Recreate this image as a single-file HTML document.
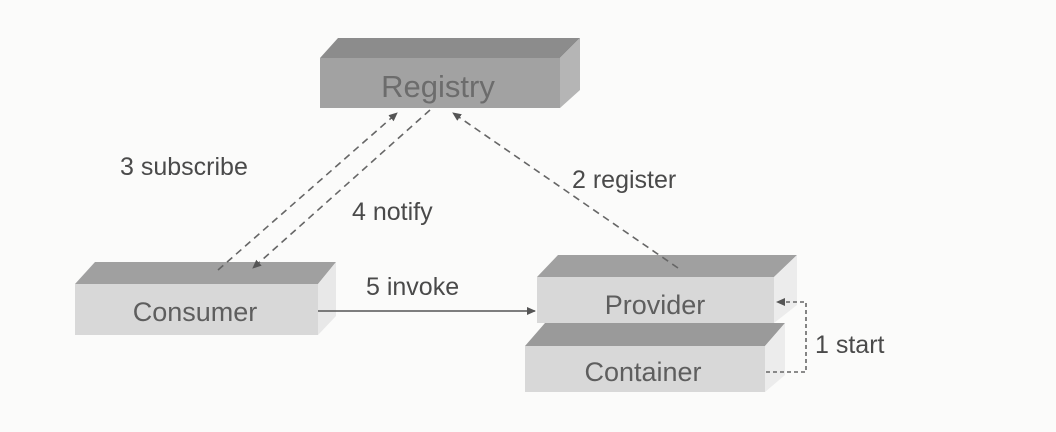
<!DOCTYPE html>
<html><head><style>body{margin:0;background:#fff}svg{display:block}</style></head><body>
<svg width="1056" height="432" viewBox="0 0 1056 432" xmlns="http://www.w3.org/2000/svg" font-family="Liberation Sans, sans-serif">
<rect width="1056" height="432" fill="#fbfbfa"/>
<defs><marker id="a" markerWidth="10" markerHeight="10" refX="8" refY="5" orient="auto" markerUnits="userSpaceOnUse"><path d="M0,1 L9,5 L0,9z" fill="#555"/></marker></defs>
<!-- Registry -->
<polygon points="320,58 338,38 580,38 560,58" fill="#8c8c8c"/>
<polygon points="560,58 580,38 580,90 560,108" fill="#b5b5b5"/>
<rect x="320" y="58" width="240" height="50" fill="#a2a2a2"/>
<text x="438" y="97" font-size="31" fill="#6c6c6c" text-anchor="middle">Registry</text>
<!-- Consumer -->
<polygon points="75,284 95,262 336,262 318,284" fill="#a0a0a0"/>
<polygon points="318,284 336,262 336,316 318,335" fill="#e8e8e8"/>
<rect x="75" y="284" width="243" height="51" fill="#d8d8d8"/>
<text x="195" y="321" font-size="27" fill="#5e5e5e" text-anchor="middle">Consumer</text>
<!-- Container -->
<polygon points="525,346 545,323 785,323 765,346" fill="#9a9a9a"/>
<polygon points="765,346 785,323 785,375 765,392" fill="#ececec"/>
<rect x="525" y="346" width="240" height="46" fill="#d8d8d8"/>
<text x="643" y="381" font-size="27" fill="#5e5e5e" text-anchor="middle">Container</text>
<!-- Provider -->
<polygon points="537,277 558,255 797,255 774,277" fill="#a0a0a0"/>
<polygon points="774,277 797,255 797,305 774,323" fill="#ececec"/>
<rect x="537" y="277" width="237" height="46" fill="#d8d8d8"/>
<text x="655" y="314" font-size="27" fill="#5e5e5e" text-anchor="middle">Provider</text>
<!-- connectors -->
<g stroke="#666" stroke-width="1.6" fill="none" stroke-dasharray="7,5">
<line x1="218" y1="270" x2="397" y2="113" marker-end="url(#a)"/>
<line x1="430" y1="110" x2="253" y2="268" marker-end="url(#a)"/>
<line x1="678" y1="268" x2="453" y2="113" marker-end="url(#a)"/>
</g>
<line x1="318" y1="311" x2="535" y2="311" stroke="#555" stroke-width="1.5" marker-end="url(#a)"/>
<polyline points="766,372 806,372 806,302 777,302" stroke="#666" stroke-width="1.6" fill="none" stroke-dasharray="4,3" marker-end="url(#a)"/>
<g font-size="25" fill="#4a4a4a">
<text x="120" y="175">3 subscribe</text>
<text x="352" y="220">4 notify</text>
<text x="572" y="188">2 register</text>
<text x="366" y="295">5 invoke</text>
<text x="815" y="353">1 start</text>
</g>
</svg>
</body></html>
